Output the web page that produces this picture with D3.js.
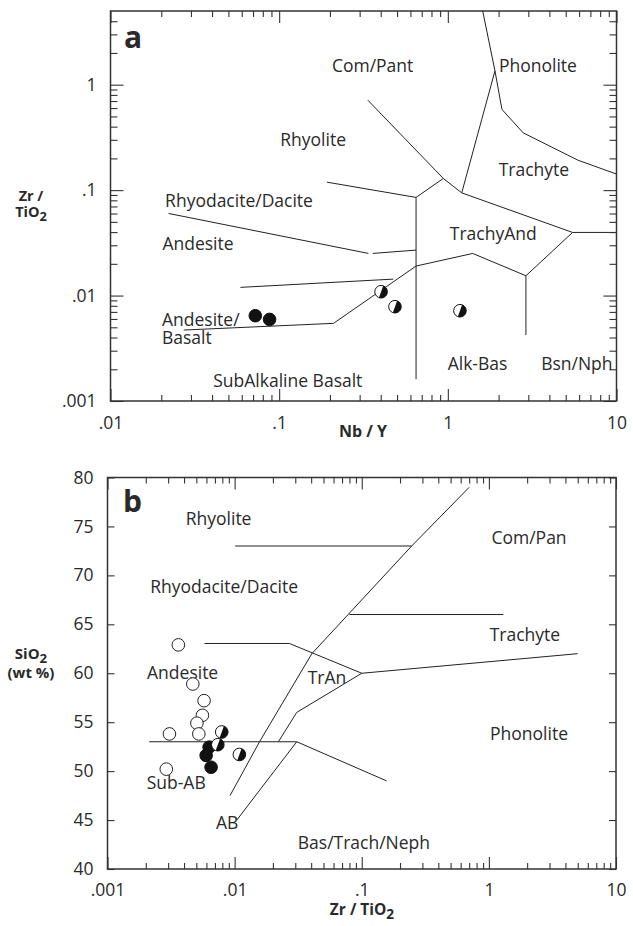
<!DOCTYPE html>
<html>
<head>
<meta charset="utf-8">
<script src="https://cdn.jsdelivr.net/npm/d3@7"></script>
<style>
  html, body { margin: 0; padding: 0; background: #fff; }
  svg { display: block; }
  text { font-family: "Open Sans", "Noto Sans", sans-serif; fill: #2a2a2a; }
</style>
</head>
<body>
<svg id="chart" width="633" height="926"></svg>
<script>
// ---------- Panel a: Zr/TiO2 vs Nb/Y ----------
const nbYTickValues = [0.01, 0.1, 1, 10];
const nbYTickLabels = [".01", ".1", "1", "10"];
const zrTiTickValuesA = [0.001, 0.01, 0.1, 1];
const zrTiTickLabelsA = [".001", ".01", ".1", "1"];

// samples: [Nb/Y, Zr/TiO2]
const aFilled = [[0.0722, 0.00644], [0.0877, 0.00594]];
const aHalf = [[0.402, 0.01087], [0.486, 0.00784], [1.18, 0.00718]];

// field boundaries, each a polyline of [Nb/Y, Zr/TiO2]
const aBoundaries = [
  [[1.61, 5], [1.903, 1.352], [2.094, 0.582], [2.80, 0.349], [5.92, 0.192], [10, 0.142]],
  [[1.903, 1.352], [1.209, 0.0942]],
  [[0.3356, 0.713], [0.94, 0.129], [1.209, 0.0942], [5.49, 0.0397], [10, 0.0397]],
  [[0.94, 0.129], [0.648, 0.0853], [0.192, 0.119]],
  [[0.648, 0.0853], [0.648, 0.00161]],
  [[0.0221, 0.0601], [0.338, 0.0251]],
  [[0.359, 0.0251], [0.648, 0.0270]],
  [[0.0589, 0.01196], [0.475, 0.01432]],
  [[0.0272, 0.00471], [0.210, 0.00545], [0.648, 0.01905], [1.404, 0.0251], [2.904, 0.01541], [5.49, 0.0397]],
  [[2.904, 0.01541], [2.904, 0.00422]]
];

// field names, centred at [Nb/Y, Zr/TiO2]
const aFields = [
  ["Com/Pant", 0.358, 1.53],
  ["Phonolite", 3.42, 1.51],
  ["Rhyolite", 0.159, 0.298],
  ["Trachyte", 3.24, 0.155],
  ["Rhyodacite/Dacite", 0.0578, 0.0787],
  ["TrachyAnd", 1.86, 0.0389],
  ["Andesite", 0.033, 0.0313],
  ["SubAlkaline Basalt", 0.1125, 0.00155],
  ["Alk-Bas", 1.50, 0.00228],
  ["Bsn/Nph", 5.82, 0.00228]
];
// left-aligned two-line field name: lines, then first-line anchor
const aFieldTwoLine = ["Andesite/", "Basalt"];
const aFieldTwoLineAt = [0.0202, 0.00586];

// ---------- Panel b: SiO2 vs Zr/TiO2 ----------
const zrTiTickValuesB = [0.001, 0.01, 0.1, 1, 10];
const zrTiTickLabelsB = [".001", ".01", ".1", "1", "10"];
const siO2TickValues = [40, 45, 50, 55, 60, 65, 70, 75, 80];
const siO2TickLabels = ["40", "45", "50", "55", "60", "65", "70", "75", "80"];

// samples: [Zr/TiO2, SiO2 wt%]
const bOpen = [
  [0.00361, 62.9], [0.00469, 58.9], [0.00575, 57.2], [0.00558, 55.7],
  [0.00505, 54.9], [0.00523, 53.8], [0.00307, 53.8], [0.00290, 50.2]
];
const bFilled = [[0.0063, 52.45], [0.00597, 51.6], [0.00653, 50.4]];
const bHalf = [[0.00792, 54.0], [0.00738, 52.7], [0.0109, 51.7]];

const bBoundaries = [
  [[0.70, 79], [0.247, 73], [0.0405, 62], [0.0157, 53], [0.0092, 47.5]],
  [[0.0101, 73], [0.247, 73]],
  [[0.080, 66], [1.30, 66]],
  [[0.0058, 63.04], [0.027, 63.04], [0.10, 60], [5.0, 62]],
  [[0.0221, 53], [0.0308, 56], [0.10, 60]],
  [[0.00213, 53], [0.0308, 53]],
  [[0.0308, 53], [0.0104, 45]],
  [[0.0308, 53], [0.157, 49]]
];

const bFields = [
  ["Rhyolite", 0.00748, 75.8],
  ["Rhyodacite/Dacite", 0.00827, 68.8],
  ["Com/Pan", 2.07, 73.8],
  ["Trachyte", 1.92, 63.9],
  ["Andesite", 0.0039, 60.1],
  ["TrAn", 0.0533, 59.5],
  ["Phonolite", 2.07, 53.85],
  ["Sub-AB", 0.00347, 48.8],
  ["AB", 0.00873, 44.7],
  ["Bas/Trach/Neph", 0.104, 42.7]
];

// ---------- drawing ----------
const svg = d3.select("#chart");
const INK = "#222";
const LABEL_SIZE = 17.5;
const TICK_SIZE = 17.5;

function logMinorTicks(domain) {
  const out = [];
  const lo = Math.floor(Math.log10(domain[0]));
  const hi = Math.ceil(Math.log10(domain[1]));
  for (let e = lo; e < hi; e++) {
    for (let k = 2; k <= 9; k++) {
      const v = k * Math.pow(10, e);
      if (v > domain[0] * 1.0001 && v < domain[1] * 0.9999) out.push(v);
    }
  }
  return out;
}

function styleAxis(g) {
  g.select(".domain").remove();
  g.selectAll(".tick line").attr("stroke", "#333").attr("stroke-width", 1.1);
  g.selectAll(".tick text")
    .style("font-family", '"Open Sans", sans-serif')
    .style("font-size", TICK_SIZE + "px")
    .attr("fill", "#2a2a2a");
}

function drawFrame(x0, x1, y0, y1) {
  svg.append("rect")
    .attr("x", x0).attr("y", y0)
    .attr("width", x1 - x0).attr("height", y1 - y0)
    .attr("fill", "none").attr("stroke", "#333").attr("stroke-width", 1.5);
}

// log axis on a horizontal edge: minor + major ticks pointing inward
function hLogAxis(scale, y, side, majors, labels, pad) {
  const make = side === "bottom" ? d3.axisBottom : d3.axisTop;
  const gMinor = svg.append("g").attr("transform", `translate(0,${y})`)
    .call(make(scale).tickValues(logMinorTicks(scale.domain())).tickSize(-6).tickFormat(""));
  styleAxis(gMinor);
  const gMajor = svg.append("g").attr("transform", `translate(0,${y})`)
    .call(make(scale).tickValues(majors).tickSize(-12).tickPadding(pad || 0)
      .tickFormat((d, i) => labels ? labels[i] : ""));
  styleAxis(gMajor);
}

function vLogAxis(scale, x, side, majors, labels, pad) {
  const make = side === "left" ? d3.axisLeft : d3.axisRight;
  const gMinor = svg.append("g").attr("transform", `translate(${x},0)`)
    .call(make(scale).tickValues(logMinorTicks(scale.domain())).tickSize(-7).tickFormat(""));
  styleAxis(gMinor);
  const gMajor = svg.append("g").attr("transform", `translate(${x},0)`)
    .call(make(scale).tickValues(majors).tickSize(-13).tickPadding(pad || 0)
      .tickFormat((d, i) => labels ? labels[i] : ""));
  styleAxis(gMajor);
}

function drawBoundaries(lines, x, y) {
  const line = d3.line().x(d => x(d[0])).y(d => y(d[1]));
  svg.append("g").selectAll("path").data(lines).join("path")
    .attr("d", line).attr("fill", "none")
    .attr("stroke", INK).attr("stroke-width", 1).attr("stroke-linejoin", "round");
}

function drawFields(fields, x, y, anchor) {
  svg.append("g").selectAll("text").data(fields).join("text")
    .attr("x", d => x(d[1])).attr("y", d => y(d[2]))
    .attr("dy", "0.36em")
    .attr("text-anchor", anchor)
    .style("font-size", LABEL_SIZE + "px")
    .text(d => d[0]);
}

const R = 6.3;
function drawFilled(pts, x, y) {
  svg.append("g").selectAll("circle").data(pts).join("circle")
    .attr("cx", d => x(d[0])).attr("cy", d => y(d[1])).attr("r", R)
    .attr("fill", "#111").attr("stroke", "#111").attr("stroke-width", 1);
}
function drawOpen(pts, x, y) {
  svg.append("g").selectAll("circle").data(pts).join("circle")
    .attr("cx", d => x(d[0])).attr("cy", d => y(d[1])).attr("r", R)
    .attr("fill", "#fff").attr("stroke", "#222").attr("stroke-width", 1);
}
function drawHalf(pts, x, y) {
  const a1 = -70 * Math.PI / 180, a2 = 110 * Math.PI / 180;
  const half = `M${R * Math.cos(a1)},${R * Math.sin(a1)} A${R},${R} 0 0 1 ${R * Math.cos(a2)},${R * Math.sin(a2)} Z`;
  const g = svg.append("g").selectAll("g").data(pts).join("g")
    .attr("transform", d => `translate(${x(d[0])},${y(d[1])})`);
  g.append("circle").attr("r", R).attr("fill", "#fff").attr("stroke", "#111").attr("stroke-width", 1);
  g.append("path").attr("d", half).attr("fill", "#111");
}

// bold title of stacked lines; each line is a list of [text, isSubscript]
function stackedTitle(x, y, lines, size, lineGap) {
  const t = svg.append("text").attr("text-anchor", "middle")
    .style("font-size", size + "px").style("font-weight", 700);
  lines.forEach((parts, li) => {
    parts.forEach((p, pi) => {
      const s = t.append("tspan").text(p[0]);
      if (pi === 0) s.attr("x", x).attr("y", y + li * lineGap);
      if (p[1]) s.attr("dy", "0.28em").style("font-size", (size * 0.88) + "px");
    });
  });
  return t;
}

// ----- panel a -----
const aL = 110.5, aR = 616.5, aT = 11, aB = 401;
const xA = d3.scaleLog().domain([0.01, 10]).range([aL, aR]);
const yA = d3.scaleLog().domain([0.001, 5]).range([aB, aT]);

drawBoundaries(aBoundaries, xA, yA);
drawFields(aFields, xA, yA, "middle");
{
  const t = svg.append("text").attr("text-anchor", "start")
    .style("font-size", LABEL_SIZE + "px");
  aFieldTwoLine.forEach((s, i) => {
    t.append("tspan").attr("x", xA(aFieldTwoLineAt[0]))
      .attr("y", yA(aFieldTwoLineAt[1]))
      .attr("dy", (0.36 + i * 1.0) + "em").text(s);
  });
}
drawFilled(aFilled, xA, yA);
drawHalf(aHalf, xA, yA);

hLogAxis(xA, aB, "bottom", nbYTickValues, nbYTickLabels, 16);
hLogAxis(xA, aT, "top", nbYTickValues, null);
vLogAxis(yA, aL, "left", zrTiTickValuesA, zrTiTickLabelsA, 14);
vLogAxis(yA, aR, "right", zrTiTickValuesA, null);
drawFrame(aL, aR, aT, aB);

svg.append("text").attr("x", 124).attr("y", 48)
  .style("font-size", "30px").style("font-weight", 700).attr("fill", "#1a1a1a").text("a");

svg.append("text").attr("x", 363).attr("y", 437).attr("text-anchor", "middle")
  .style("font-size", "16px").style("font-weight", 700).text("Nb / Y");
stackedTitle(31, 201, [[["Zr /"]], [["TiO"], ["2", true]]], 14.5, 16);

// ----- panel b -----
const bL = 107.5, bR = 616, bT = 477.5, bB = 869;
const xB = d3.scaleLog().domain([0.001, 10]).range([bL, bR]);
const yB = d3.scaleLinear().domain([40, 80]).range([bB, bT]);

drawBoundaries(bBoundaries, xB, yB);
drawFields(bFields, xB, yB, "middle");
drawOpen(bOpen, xB, yB);
drawFilled(bFilled, xB, yB);
drawHalf(bHalf, xB, yB);

hLogAxis(xB, bB, "bottom", zrTiTickValuesB, zrTiTickLabelsB, 14.5);
hLogAxis(xB, bT, "top", zrTiTickValuesB, null);
{
  const gl = svg.append("g").attr("transform", `translate(${bL},0)`)
    .call(d3.axisLeft(yB).tickValues(siO2TickValues).tickSize(-7).tickPadding(14)
      .tickFormat((d, i) => siO2TickLabels[i]));
  styleAxis(gl);
  const gr = svg.append("g").attr("transform", `translate(${bR},0)`)
    .call(d3.axisRight(yB).tickValues(siO2TickValues).tickSize(-7).tickFormat(""));
  styleAxis(gr);
}
drawFrame(bL, bR, bT, bB);

svg.append("text").attr("x", 123).attr("y", 512)
  .style("font-size", "30px").style("font-weight", 700).attr("fill", "#1a1a1a").text("b");

stackedTitle(362, 915, [[["Zr / TiO"], ["2", true]]], 15.5, 0);
stackedTitle(31, 659, [[["SiO"], ["2", true]], [["(wt %)"]]], 15, 19);
</script>
</body>
</html>
